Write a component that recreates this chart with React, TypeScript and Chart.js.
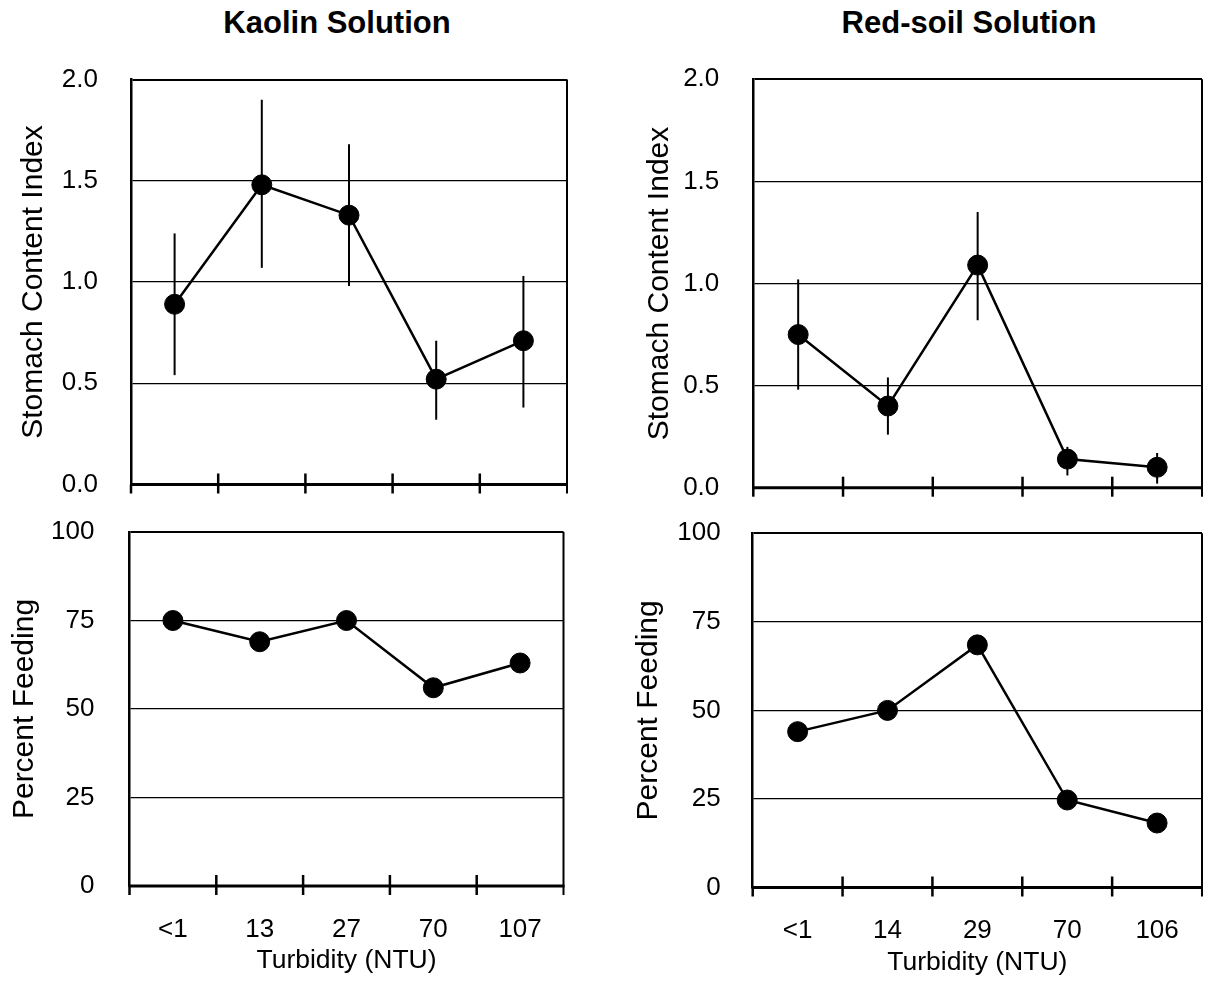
import React, { useEffect, useRef } from "react";
import { Chart, registerables } from "chart.js";

Chart.register(...registerables);

// ---- data ----
const kaolinTurbidity = ["<1", "13", "27", "70", "107"];
const redSoilTurbidity = ["<1", "14", "29", "70", "106"];

const kaolinSCI = [0.89, 1.48, 1.33, 0.52, 0.71];
const kaolinSCIUpper = [1.24, 1.9, 1.68, 0.71, 1.03];
const kaolinSCILower = [0.54, 1.07, 0.98, 0.32, 0.38];

const redSoilSCI = [0.75, 0.4, 1.09, 0.14, 0.1];
const redSoilSCIUpper = [1.02, 0.54, 1.35, 0.2, 0.17];
const redSoilSCILower = [0.48, 0.26, 0.82, 0.06, 0.02];

const kaolinFeeding = [75, 69, 75, 56, 63];
const redSoilFeeding = [44, 50, 68.5, 24.7, 18.2];

const sciAxis = { min: 0, max: 2, step: 0.5, decimals: 1 };
const feedingAxis = { min: 0, max: 100, step: 25, decimals: 0 };

const FONT = "'Liberation Sans', Arial, sans-serif";

type PanelProps = {
  left: number;
  top: number;
  width: number;
  height: number;
  labels: string[];
  values: number[];
  upper?: number[];
  lower?: number[];
  axis: { min: number; max: number; step: number; decimals: number };
  yTitle: string;
  showX: boolean;
  yWidth: number;
  padRight: number;
  padTop: number;
  xHeight: number;
  yTitlePad: number;
  yTickPad: number;
  xTitlePad: number;
};

function Panel(p: PanelProps) {
  const ref = useRef<HTMLCanvasElement | null>(null);

  useEffect(() => {
    if (!ref.current) return;
    const framePlugin = {
      id: "frameAndErrors",
      beforeDatasetsDraw(chart: any) {
        const { ctx, chartArea: a, scales } = chart;
        const xs = scales.x;
        const ys = scales.y;
        ctx.save();
        ctx.strokeStyle = "#000";
        ctx.lineCap = "butt";
        // right border
        ctx.lineWidth = 2;
        ctx.beginPath();
        ctx.moveTo(a.right, a.top);
        ctx.lineTo(a.right, a.bottom + 9);
        ctx.stroke();
        // left border extension below the axis
        ctx.lineWidth = 2.5;
        ctx.beginPath();
        ctx.moveTo(a.left, a.bottom);
        ctx.lineTo(a.left, a.bottom + 9);
        ctx.stroke();
        // bottom axis
        ctx.lineWidth = 3;
        ctx.beginPath();
        ctx.moveTo(a.left - 1, a.bottom);
        ctx.lineTo(a.right + 1, a.bottom);
        ctx.stroke();
        // category boundary ticks crossing the axis
        ctx.lineWidth = 2.5;
        for (let i = 1; i < p.labels.length; i++) {
          const tx = xs.getPixelForValue(i - 0.5);
          ctx.beginPath();
          ctx.moveTo(tx, a.bottom - 11);
          ctx.lineTo(tx, a.bottom + 9);
          ctx.stroke();
        }
        // error bars
        if (p.upper && p.lower) {
          ctx.lineWidth = 2;
          for (let i = 0; i < p.values.length; i++) {
            const px = xs.getPixelForValue(i);
            ctx.beginPath();
            ctx.moveTo(px, ys.getPixelForValue(p.upper[i]));
            ctx.lineTo(px, ys.getPixelForValue(p.lower[i]));
            ctx.stroke();
          }
        }
        ctx.restore();
      },
    };

    const chart = new Chart(ref.current, {
      type: "line",
      data: {
        labels: p.labels,
        datasets: [
          {
            data: p.values,
            borderColor: "#000",
            backgroundColor: "#000",
            borderWidth: 2.5,
            pointRadius: 10,
            pointBorderWidth: 1,
            pointBackgroundColor: "#000",
            pointBorderColor: "#000",
            tension: 0,
            fill: false,
          },
        ],
      },
      options: {
        responsive: false,
        animation: false,
        events: [],
        layout: {
          padding: { left: 0, right: p.padRight, top: p.padTop, bottom: 0 },
        },
        plugins: {
          legend: { display: false },
          tooltip: { enabled: false },
          title: { display: false },
        },
        scales: {
          x: {
            type: "category",
            offset: true,
            grid: { display: false },
            border: { display: false },
            ticks: {
              display: p.showX,
              color: "#000",
              font: { family: FONT, size: 26 },
              padding: 20,
              maxRotation: 0,
              autoSkip: false,
            },
            title: {
              display: p.showX,
              text: "Turbidity (NTU)",
              color: "#000",
              font: { family: FONT, size: 26.5 },
              padding: { top: 0, bottom: p.xTitlePad },
            },
            afterFit: (s: any) => {
              s.height = p.xHeight;
              s.paddingLeft = 0;
              s.paddingRight = 0;
            },
          },
          y: {
            min: p.axis.min,
            max: p.axis.max,
            grid: {
              color: "#000",
              lineWidth: (c: any) => (c.tick && c.tick.value === p.axis.max ? 2 : 1.3),
              drawTicks: false,
            },
            border: { display: true, color: "#000", width: 2.5 },
            ticks: {
              stepSize: p.axis.step,
              color: "#000",
              font: { family: FONT, size: 26 },
              padding: p.yTickPad,
              callback: (v: any) => Number(v).toFixed(p.axis.decimals),
            },
            title: {
              display: true,
              text: p.yTitle,
              color: "#000",
              font: { family: FONT, size: 30 },
              padding: { top: p.yTitlePad, bottom: 0 },
            },
            afterFit: (s: any) => {
              s.width = p.yWidth;
              s.paddingTop = 0;
              s.paddingBottom = 0;
            },
          },
        },
      },
      plugins: [framePlugin],
    } as any);
    return () => chart.destroy();
  }, []);

  return (
    <canvas
      ref={ref}
      width={p.width}
      height={p.height}
      style={{
        position: "absolute",
        left: p.left,
        top: p.top,
        width: p.width,
        height: p.height,
        display: "block",
      }}
    />
  );
}

const titleStyle = (cx: number): React.CSSProperties => ({
  position: "absolute",
  left: cx - 250,
  width: 500,
  top: 7,
  textAlign: "center",
  fontFamily: FONT,
  fontWeight: "bold",
  fontSize: 31,
  lineHeight: "31px",
  color: "#000",
  whiteSpace: "nowrap",
});

export default function App() {
  return (
    <div
      style={{
        position: "absolute",
        left: 0,
        top: 0,
        width: 1213,
        height: 988,
        overflow: "hidden",
        background: "#fff",
      }}
    >
      <div style={titleStyle(337)}>Kaolin Solution</div>
      <div style={titleStyle(969)}>Red-soil Solution</div>

      <Panel
        left={0}
        top={50}
        width={600}
        height={450}
        labels={kaolinTurbidity}
        values={kaolinSCI}
        upper={kaolinSCIUpper}
        lower={kaolinSCILower}
        axis={sciAxis}
        yTitle="Stomach Content Index"
        showX={false}
        yWidth={131}
        padRight={33}
        padTop={29.5}
        xHeight={15.5}
        yTitlePad={16}
        yTickPad={33}
        xTitlePad={0}
      />
      <Panel
        left={600}
        top={50}
        width={613}
        height={450}
        labels={redSoilTurbidity}
        values={redSoilSCI}
        upper={redSoilSCIUpper}
        lower={redSoilSCILower}
        axis={sciAxis}
        yTitle="Stomach Content Index"
        showX={false}
        yWidth={153.3}
        padRight={7}
        padTop={29.3}
        xHeight={12.3}
        yTitlePad={42}
        yTickPad={34}
        xTitlePad={0}
      />
      <Panel
        left={0}
        top={500}
        width={600}
        height={488}
        labels={kaolinTurbidity}
        values={kaolinFeeding}
        axis={feedingAxis}
        yTitle="Percent Feeding"
        showX={true}
        yWidth={129.5}
        padRight={36.5}
        padTop={32}
        xHeight={102}
        yTitlePad={7}
        yTickPad={35}
        xTitlePad={11}
      />
      <Panel
        left={600}
        top={500}
        width={613}
        height={488}
        labels={redSoilTurbidity}
        values={redSoilFeeding}
        axis={feedingAxis}
        yTitle="Percent Feeding"
        showX={true}
        yWidth={152.7}
        padRight={7}
        padTop={33.3}
        xHeight={100.5}
        yTitlePad={31}
        yTickPad={32}
        xTitlePad={9}
      />
    </div>
  );
}
